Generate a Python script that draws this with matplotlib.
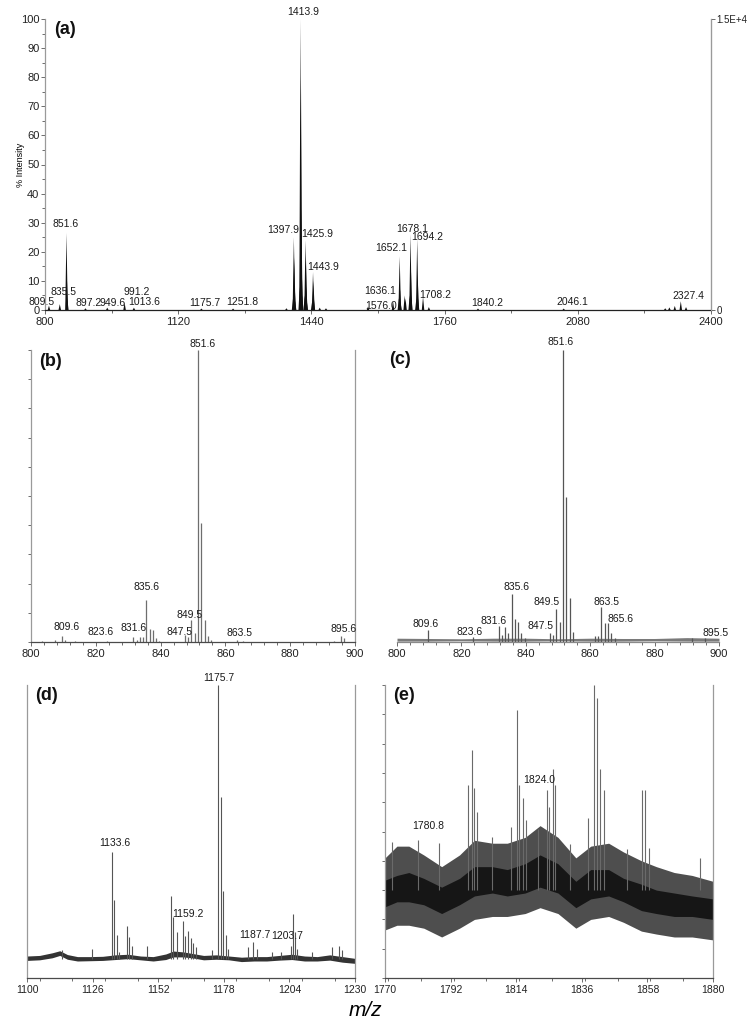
"""
MALDI spectra, five panels: full survey (a), zooms at 800-900 (b, c),
1100-1230 (d) and 1770-1880 (e).
"""

import matplotlib
matplotlib.use("Agg")
import matplotlib.pyplot as plt
from matplotlib.ticker import MultipleLocator, NullFormatter

NARROW = ["Liberation Sans Narrow", "Liberation Sans", "DejaVu Sans"]
WIDE = ["Liberation Sans", "DejaVu Sans"]
plt.rcParams["font.family"] = NARROW

FIG_W, FIG_H = 750, 1028

# ---- panel (a): survey spectrum, % intensity ----
a_mz = [809.5, 835.5, 851.6, 852.6, 853.6, 897.2, 949.6, 991.2, 1013.6, 1175.7,
        1251.8, 1380.0, 1395.9, 1397.9, 1398.9, 1399.9, 1400.9, 1411.9, 1413.9,
        1414.9, 1415.9, 1416.9, 1417.9, 1423.9, 1425.9, 1426.9, 1427.9, 1428.9,
        1441.9, 1443.9, 1444.9, 1445.9, 1460.0, 1475.0, 1576.0, 1636.1, 1650.1,
        1652.1, 1653.1, 1654.1, 1664.1, 1666.1, 1676.1, 1678.1, 1679.1, 1680.1,
        1692.2, 1694.2, 1695.2, 1696.2, 1708.2, 1722.2, 1840.2, 2046.1, 2290.0,
        2300.0, 2313.0, 2327.4, 2340.0]
a_int = [1.5, 2.0, 26.5, 11.0, 4.0, 0.6, 0.8, 2.5, 0.8, 0.5,
         0.5, 0.6, 4.0, 25.0, 18.0, 8.0, 3.0, 8.0, 100.0,
         80.0, 35.0, 13.0, 5.0, 5.0, 24.0, 18.0, 8.0, 3.0,
         3.0, 13.0, 10.0, 4.0, 0.8, 0.6, 1.2, 3.0, 4.0,
         18.5, 7.0, 2.5, 5.0, 4.0, 5.0, 26.0, 14.0, 5.0,
         4.0, 24.5, 12.0, 4.0, 4.5, 1.0, 0.5, 0.5, 0.6,
         0.9, 1.4, 3.0, 1.0]
a_labels = [("809.5", 792.8, 2.7), ("835.5", 845.6, 6.2), ("851.6", 850.0, 29.5),
            ("897.2", 905.7, 2.4), ("949.6", 963.4, 2.4), ("991.2", 1021.0, 6.2),
            ("1013.6", 1038.0, 2.7), ("1175.7", 1184.0, 2.4), ("1251.8", 1273.0, 2.7),
            ("1397.9", 1372.0, 27.5), ("1413.9", 1420.0, 102.4), ("1425.9", 1453.0, 26.0),
            ("1443.9", 1468.0, 14.8), ("1576.0", 1608.0, 1.5), ("1636.1", 1604.0, 6.5),
            ("1652.1", 1631.0, 21.3), ("1678.1", 1682.0, 28.0), ("1694.2", 1718.0, 25.0),
            ("1708.2", 1737.0, 5.2), ("1840.2", 1862.0, 2.3), ("2046.1", 2068.0, 2.6),
            ("2327.4", 2345.0, 4.8)]

# ---- panel (b): 800-900 zoom ----
b_mz = [803.5, 807.5, 809.6, 810.6, 813.5, 823.6, 831.6, 832.6, 833.6, 834.6,
        835.6, 836.6, 837.6, 838.6, 839.6, 847.5, 848.5, 849.5, 850.5, 851.6,
        852.6, 853.6, 854.6, 855.6, 863.5, 865.5, 893.6, 895.6, 896.6]
b_int = [0.5, 0.6, 2.2, 0.8, 0.5, 0.5, 1.7, 0.8, 1.7, 1.7,
         14.4, 4.4, 4.1, 1.2, 0.5, 2.5, 1.7, 7.5, 3.0, 100.0,
         40.8, 7.5, 2.0, 0.6, 0.6, 0.4, 0.5, 2.0, 1.2]
b_labels = [("851.6", 853.1, 102.0), ("835.6", 835.5, 18.8), ("849.5", 848.8, 9.2),
            ("809.6", 811.0, 5.2), ("823.6", 821.6, 3.4), ("831.6", 831.8, 4.7),
            ("847.5", 845.7, 3.4), ("863.5", 864.2, 3.0), ("895.6", 896.6, 4.4)]

# ---- panel (c): 800-900 zoom, second sample ----
c_mz = [809.6, 823.6, 831.6, 832.6, 833.6, 834.6, 835.6, 836.6, 837.6, 838.6,
        839.6, 847.5, 848.5, 849.5, 850.5, 851.6, 852.6, 853.6, 854.6, 861.5,
        862.5, 863.5, 864.5, 865.6, 866.6, 867.6, 891.5, 895.5]
c_int = [4.0, 1.8, 5.5, 2.5, 5.0, 3.0, 16.5, 8.0, 7.0, 3.0,
         1.5, 3.2, 2.5, 11.4, 7.0, 100.0, 49.6, 15.0, 3.5, 2.0,
         2.0, 12.0, 6.5, 6.5, 3.0, 1.5, 1.5, 1.5]
c_base_mz = [800, 810, 820, 830, 840, 850, 860, 870, 880, 890, 900]
c_base_lo = [0.3, 0.3, 0.4, 0.3, 0.3, 0.4, 0.3, 0.3, 0.4, 0.3, 0.3]
c_base_hi = [1.3, 1.2, 1.1, 1.3, 1.3, 1.1, 1.3, 1.2, 1.2, 1.5, 1.3]
c_labels = [("851.6", 850.9, 102.8), ("835.6", 837.1, 19.0), ("849.5", 846.3, 13.8),
            ("863.5", 865.0, 13.8), ("865.6", 869.3, 7.9), ("809.6", 809.0, 6.2),
            ("823.6", 822.4, 3.4), ("831.6", 830.1, 7.2), ("847.5", 844.7, 5.5),
            ("895.5", 899.0, 3.1)]

# ---- panel (d): 1100-1230 ----
d_mz = [1113.8, 1125.8, 1133.6, 1134.6, 1135.6, 1136.6, 1139.6, 1140.6, 1141.6,
        1147.6, 1157.1, 1158.0, 1159.4, 1161.7, 1162.6, 1163.7, 1164.9, 1165.8,
        1167.0, 1173.3, 1175.7, 1176.7, 1177.7, 1178.7, 1179.7, 1187.7, 1189.7,
        1191.0, 1197.0, 1200.5, 1204.5, 1205.5, 1206.3, 1207.2, 1213.0, 1221.0,
        1223.7, 1225.0]
d_int = [9.5, 10.0, 43.0, 26.6, 14.7, 9.0, 17.7, 14.0, 11.0,
         11.0, 28.0, 20.8, 15.7, 19.5, 14.3, 16.0, 13.6, 12.0,
         10.6, 9.5, 100.0, 61.8, 29.7, 14.7, 10.0, 10.6, 12.3,
         10.0, 9.0, 9.0, 11.0, 21.8, 15.7, 10.0, 9.0, 10.5,
         11.0, 9.5]
d_base_mz = [1100, 1105, 1110, 1113, 1116, 1120, 1125, 1130, 1135, 1140, 1145, 1150,
             1155, 1158, 1162, 1166, 1170, 1175, 1180, 1185, 1190, 1195, 1200, 1205,
             1210, 1215, 1220, 1225, 1230]
d_base_lo = [6.0, 6.2, 6.9, 7.7, 6.4, 5.8, 5.9, 6.0, 6.3, 6.6, 6.2, 5.8,
             6.3, 7.2, 7.2, 6.8, 6.2, 6.4, 6.2, 5.6, 5.8, 5.8, 6.1, 6.3,
             5.8, 5.8, 6.1, 5.4, 5.0]
d_base_hi = [7.5, 7.7, 8.6, 9.3, 8.0, 7.3, 7.3, 7.4, 7.9, 8.1, 7.5, 7.3,
             8.2, 9.2, 8.9, 8.3, 7.7, 7.9, 7.5, 7.1, 7.3, 7.3, 7.7, 8.1,
             7.5, 7.3, 7.9, 7.3, 6.7]
d_labels = [("1175.7", 1176.1, 102.4), ("1133.6", 1134.8, 46.0), ("1159.2", 1163.8, 22.0),
            ("1187.7", 1190.4, 14.7), ("1203.7", 1203.0, 14.3)]

# ---- panel (e): 1770-1880, noisy ----
e_mz = [1772.2, 1781.2, 1788.2, 1798.0, 1799.1, 1800.0, 1801.0, 1806.0, 1812.3,
        1814.2, 1815.1, 1816.2, 1817.3, 1821.2, 1824.3, 1825.0, 1826.2, 1827.0,
        1832.0, 1838.0, 1840.1, 1841.0, 1842.1, 1843.3, 1851.1, 1856.1, 1857.2,
        1858.4, 1875.7]
e_int = [46.3, 47.0, 46.0, 65.9, 77.8, 64.7, 56.7, 48.0, 51.7,
         91.5, 65.9, 61.3, 53.9, 50.8, 64.0, 58.4, 71.5, 66.0,
         45.7, 54.5, 100.0, 95.4, 71.5, 64.0, 43.9, 64.0, 64.0,
         44.3, 41.0]
e_base_mz = [1770, 1774, 1778, 1783, 1789, 1795, 1800, 1806, 1811, 1817, 1822,
             1828, 1834, 1839, 1845, 1850, 1856, 1861, 1867, 1873, 1880]
e_outer_lo = [16.4, 18, 18, 17, 14, 17, 20, 21, 21, 22, 24, 22, 17, 20, 21, 19, 16, 15, 14, 14, 13]
e_outer_hi = [41, 45, 45, 42, 38, 42, 47, 46, 46, 48, 52, 48, 41, 45, 46, 43, 40, 38, 36, 35, 33]
e_core_lo = [24.3, 26, 26, 25, 22, 25, 28, 29, 28, 29, 31, 29, 24, 27, 28, 26, 23, 22, 21, 21, 20]
e_core_hi = [33.4, 35, 36, 34, 31, 34, 38, 38, 37, 39, 42, 39, 33, 37, 37, 34, 32, 30, 29, 28, 27]
e_labels = [("1780.8", 1784.4, 51.9), ("1824.0", 1821.6, 67.6)]

SPINE_GRAY = "#9a9a9a"
AXIS_DARK = "#4a4a4a"


def px_rect(left, right, top, bottom):
    return [left / FIG_W, 1 - bottom / FIG_H, (right - left) / FIG_W, (bottom - top) / FIG_H]


def style_axes(ax, left=True, right=True, bottom_color=AXIS_DARK):
    ax.spines["top"].set_visible(False)
    ax.spines["left"].set_visible(left)
    ax.spines["right"].set_visible(right)
    for side in ("left", "right"):
        ax.spines[side].set_color(SPINE_GRAY)
        ax.spines[side].set_linewidth(0.9)
    ax.spines["bottom"].set_color(bottom_color)
    ax.spines["bottom"].set_linewidth(0.9)
    ax.tick_params(axis="both", which="both", direction="out", colors="#555555",
                   labelcolor="#222222", width=0.6)
    ax.tick_params(axis="both", which="major", length=3)
    ax.tick_params(axis="both", which="minor", length=2)
    ax.set_facecolor("none")


def set_label_font(ax, family, size):
    for lab in ax.get_xticklabels() + ax.get_yticklabels():
        lab.set_family(family)
        lab.set_fontsize(size)


def peak_labels(ax, labels, family, size):
    for text, x, y in labels:
        ax.text(x, y, text, ha="center", va="center", family=family,
                fontsize=size, color="#1a1a1a", clip_on=False)


def panel_tag(fig, text, x_px, y_px):
    fig.text(x_px / FIG_W, 1 - y_px / FIG_H, text, ha="center", va="center",
             fontsize=13, fontweight="bold", family=WIDE, color="#111111")


def draw_panel_a(fig):
    ax = fig.add_axes(px_rect(45, 711, 19, 310))
    style_axes(ax, bottom_color="#222222")
    for mz, h in zip(a_mz, a_int):
        ax.fill([mz - 3.0, mz, mz + 3.0], [0, h, 0], color="#111111", lw=0)
    ax.set_xlim(800, 2400)
    ax.set_ylim(0, 100)
    ax.set_xticks([800, 1120, 1440, 1760, 2080, 2400])
    ax.xaxis.set_minor_locator(MultipleLocator(160))
    ax.yaxis.set_major_locator(MultipleLocator(10))
    ax.yaxis.set_minor_locator(MultipleLocator(5))
    ax.tick_params(axis="x", pad=2)
    ax.tick_params(axis="y", pad=1)
    set_label_font(ax, NARROW, 8)
    ax.set_ylabel("% Intensity", fontsize=6.5, family=WIDE, labelpad=-3)
    peak_labels(ax, a_labels, NARROW, 7.5)

    ax2 = ax.twinx()
    ax2.set_ylim(0, 100)
    ax2.set_yticks([0, 100])
    ax2.set_yticklabels(["0", "1.5E+4"])
    for side in ("top", "left", "bottom"):
        ax2.spines[side].set_visible(False)
    ax2.spines["right"].set_color(SPINE_GRAY)
    ax2.tick_params(axis="y", direction="out", length=3, width=0.6, colors="#555555",
                    labelcolor="#222222", pad=1)
    set_label_font(ax2, NARROW, 7)
    panel_tag(fig, "(a)", 65, 30)


def draw_zoom_800(fig, rect, mz, inten, labels, tag, tag_xy, color,
                  spines=True, base=None):
    ax = fig.add_axes(px_rect(*rect))
    style_axes(ax, left=spines, right=spines,
               bottom_color=AXIS_DARK if spines else "#8a8a8a")
    if base is not None:
        b_mz, b_lo, b_hi = base
        ax.fill_between(b_mz, b_lo, b_hi, color="#7a7a7a", lw=0)
    ax.vlines(mz, 0, inten, color=color, lw=0.9)
    ax.set_xlim(800, 900)
    ax.set_ylim(0, 100)
    ax.set_xticks([800, 820, 840, 860, 880, 900])
    ax.xaxis.set_minor_locator(MultipleLocator(4))
    if spines:
        ax.yaxis.set_major_locator(MultipleLocator(10))
        ax.yaxis.set_major_formatter(NullFormatter())
        ax.tick_params(axis="y", which="major", length=2)
    else:
        ax.set_yticks([])
    ax.tick_params(axis="x", pad=2)
    set_label_font(ax, WIDE, 8)
    peak_labels(ax, labels, WIDE, 7.5)
    panel_tag(fig, tag, *tag_xy)


def draw_panel_d(fig):
    ax = fig.add_axes(px_rect(27, 355, 685, 978))
    style_axes(ax)
    ax.fill_between(d_base_mz, d_base_lo, d_base_hi, color="#333333", lw=0)
    ax.vlines(d_mz, 6.5, d_int, color="#555555", lw=0.8)
    ax.set_xlim(1100, 1230)
    ax.set_ylim(0, 100)
    ax.set_xticks([1100, 1126, 1152, 1178, 1204, 1230])
    ax.xaxis.set_minor_locator(MultipleLocator(13))
    ax.set_yticks([])
    ax.tick_params(axis="x", pad=2)
    set_label_font(ax, NARROW, 7.5)
    peak_labels(ax, d_labels, NARROW, 7.5)
    panel_tag(fig, "(d)", 46, 695)


def draw_panel_e(fig):
    ax = fig.add_axes(px_rect(385, 713, 685, 978))
    style_axes(ax)
    ax.vlines(e_mz, 30, e_int, color="#6a6a6a", lw=0.8)
    ax.fill_between(e_base_mz, e_outer_lo, e_outer_hi, color="#4e4e4e", lw=0)
    ax.fill_between(e_base_mz, e_core_lo, e_core_hi, color="#161616", lw=0)
    ax.set_xlim(1770, 1880)
    ax.set_ylim(0, 100)
    ax.set_xticks([1770, 1792, 1814, 1836, 1858, 1880])
    ax.xaxis.set_minor_locator(MultipleLocator(11))
    ax.yaxis.set_major_locator(MultipleLocator(10))
    ax.yaxis.set_major_formatter(NullFormatter())
    ax.tick_params(axis="y", which="major", length=2)
    ax.tick_params(axis="x", pad=2)
    set_label_font(ax, NARROW, 7.5)
    peak_labels(ax, e_labels, NARROW, 7.5)
    panel_tag(fig, "(e)", 404, 695)


def main():
    fig = plt.figure(figsize=(FIG_W / 100, FIG_H / 100), dpi=100)
    fig.patch.set_facecolor("white")

    draw_panel_a(fig)
    draw_zoom_800(fig, (31, 355, 350, 642), b_mz, b_int, b_labels, "(b)", (50, 361),
                  "#6e6e6e")
    draw_zoom_800(fig, (397, 719, 350, 642), c_mz, c_int, c_labels, "(c)", (400, 360),
                  "#555555", spines=False, base=(c_base_mz, c_base_lo, c_base_hi))
    draw_panel_d(fig)
    draw_panel_e(fig)

    fig.text(365 / FIG_W, 1 - 1010 / FIG_H, "m/z", ha="center", va="center",
             fontsize=15, style="italic", family=WIDE)

    fig.savefig("out.png", dpi=100)
    plt.close(fig)


if __name__ == "__main__":
    main()
